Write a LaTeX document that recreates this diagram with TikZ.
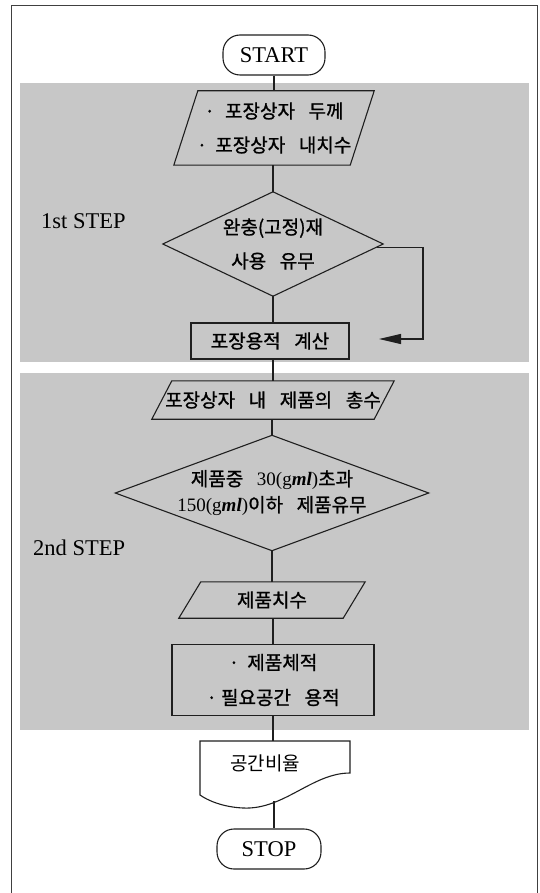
\documentclass[tikz,border=0pt]{standalone}
\usepackage{fontspec}
\setmainfont{Liberation Serif}
\newfontfamily\kr[WordSpace=3.2,FakeBold=1]{Noto Sans CJK KR}
\newfontfamily\krl[WordSpace=3.2]{Noto Sans CJK KR}
\usetikzlibrary{arrows.meta,calc}
\definecolor{shadegray}{gray}{0.78}
\definecolor{ink}{gray}{0.12}
\tikzset{
  ln/.style={draw=ink, line width=1.1pt},
  flow/.style={draw=ink, line width=1.1pt},
  term/.style={ln, rounded corners=17pt, minimum width=102pt, minimum height=40pt, inner sep=0pt, font=\fontsize{22.5}{26}\selectfont},
  ghost/.style={inner sep=0pt, align=center, font=\kr\fontsize{19}{34}\selectfont},
  box/.style={ghost, ln},
  steplabel/.style={anchor=west, inner sep=0pt, font=\fontsize{22.5}{26}\selectfont},
  shadearea/.style={fill=shadegray, draw=none},
}
\begin{document}
\begin{tikzpicture}[x=1pt,y=-1pt]
\useasboundingbox (0,0) rectangle (540,893);
\fill[white] (0,0) rectangle (540,893);
% background bands
\path[shadearea] (20,83) rectangle (529,362);
\path[shadearea] (20,373) rectangle (529,730);
% outer frame
\draw[draw=black!75, line width=1pt] (11,893) -- (11,6) -- (537,6) -- (537,893);

% nodes
\node[term] (start) at (274,55) {START};

\node[ghost, minimum width=176pt, minimum height=74pt] (p1) at (274,128)
  {·\hspace{10pt}포장상자 두께\\·\hspace{8pt}포장상자 내치수};
\draw[ln] ([xshift=-12pt]p1.south west) -- ([xshift=-12pt]p1.south east)
  -- ([xshift=12pt]p1.north east) -- ([xshift=12pt]p1.north west) -- cycle;

\node[steplabel] (s1) at (41,221) {1st STEP};

\node[ghost, minimum width=220pt, minimum height=104pt] (d1) at (273,244)
  {완충(고정)재\\사용 유무};
\draw[ln] (d1.north) -- (d1.east) -- (d1.south) -- (d1.west) -- cycle;

\node[box, minimum width=158pt, minimum height=36pt] (r1) at (270,341) {포장용적 계산};

\node[ghost, minimum width=222pt, minimum height=38pt] (p2) at (273,400) {포장상자 내 제품의 총수};
\draw[ln] ([xshift=-10pt]p2.south west) -- ([xshift=-10pt]p2.south east)
  -- ([xshift=10pt]p2.north east) -- ([xshift=10pt]p2.north west) -- cycle;

\node[ghost, minimum width=313pt, minimum height=115pt, font=\kr\fontsize{19}{26}\selectfont] (d2) at (272,493)
  {제품중 {\rmfamily 30(g\textbf{\textit{ml}})}초과\\{\rmfamily 150(g\textbf{\textit{ml}})}이하 제품유무};
\draw[ln] (d2.north) -- (d2.east) -- (d2.south) -- (d2.west) -- cycle;

\node[steplabel] (s2) at (33,548) {2nd STEP};

\node[ghost, minimum width=164pt, minimum height=36pt] (p3) at (272,600) {제품치수};
\draw[ln] ([xshift=-11pt]p3.south west) -- ([xshift=-11pt]p3.south east)
  -- ([xshift=11pt]p3.north east) -- ([xshift=11pt]p3.north west) -- cycle;

\node[box, minimum width=202pt, minimum height=71pt, font=\kr\fontsize{19}{35}\selectfont] (r2) at (273,680)
  {·\hspace{8pt}제품체적\\·\hspace{4pt}필요공간 용적};

% document shape
\node[inner sep=0pt, minimum width=150pt, minimum height=48pt] (doc) at (275,765) {};
\node[inner sep=0pt, font=\krl\fontsize{19}{24}\selectfont] (doctext) at (265,763) {공간비율};
\draw[ln] (200,741) -- (350,741) -- (350,773)
  .. controls (312,773) and (284,810) .. (243,808)
  .. controls (222,807) and (207,800) .. (200,795) -- cycle;
\coordinate (docb) at (274,801);

\node[term, minimum width=104pt] (stop) at (269,849) {STOP};

% connectors
\draw[flow] (start.south) -- (start.south |- p1.north);
\draw[flow] (p1.south -| d1.north) -- (d1.north);
\draw[flow] (d1.south) -- (d1.south |- r1.north);
\draw[flow] (r1.south -| p2.north) -- (p2.north);
\draw[flow] (p2.south -| d2.north) -- (d2.north);
\draw[flow] (d2.south) -- (d2.south |- p3.north);
\draw[flow] (p3.south -| r2.north) -- (r2.north);
\draw[flow] (r2.south) -- (r2.south |- doc.north);
\draw[flow] (docb) -- (docb |- stop.north);

\coordinate (d1r) at ($(d1.east)!0.06!(d1.south)$);
\coordinate (loopc) at (423,339);
\coordinate (arrtip) at (379,339);
\draw[flow, -{Triangle[length=22pt,width=10pt]}] (d1r) -| (loopc) -- (arrtip);
\end{tikzpicture}
\end{document}
